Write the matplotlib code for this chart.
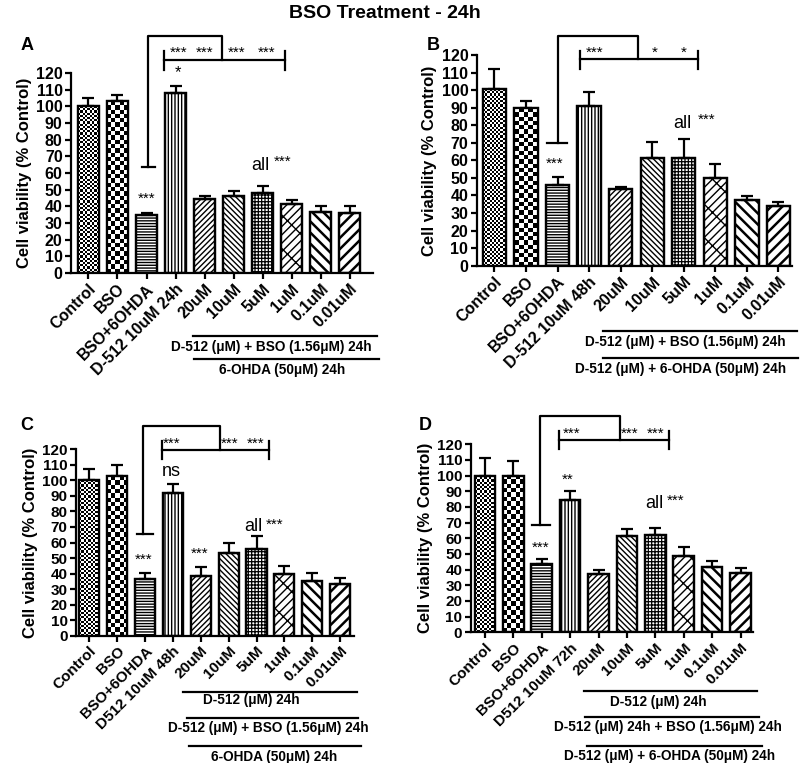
import numpy as np
import matplotlib
matplotlib.use('Agg')
import matplotlib.pyplot as plt

plt.rcParams['font.family'] = ['Liberation Sans', 'DejaVu Sans']

# ---- data (mean, upper SEM) ----
conc_labels = ["20uM", "10uM", "5uM", "1uM", "0.1uM", "0.01uM"]
labels_A = ["Control", "BSO", "BSO+6OHDA", "D-512 10uM 24h"] + conc_labels
labels_B = ["Control", "BSO", "BSO+6OHDA", "D-512 10uM 48h"] + conc_labels
labels_C = ["Control", "BSO", "BSO+6OHDA", "D512 10uM 48h"] + conc_labels
labels_D = ["Control", "BSO", "BSO+6OHDA", "D512 10uM 72h"] + conc_labels

vals_A = [100, 103.2, 34.6, 108, 44.4, 46.2, 48, 41.2, 36.6, 36]
err_A = [5, 3.8, 1.4, 4, 2, 3, 4, 2.8, 3.4, 4]

vals_B = [100.4, 89.8, 46, 90.7, 43.6, 61.5, 61.5, 50, 37.4, 34.2]
err_B = [11.6, 4.2, 4.7, 8.2, 1.4, 8.9, 10.5, 7.7, 2.3, 2]

vals_C = [100, 102.6, 36.2, 92, 38.5, 53.5, 55.5, 39.4, 35.3, 33.6]
err_C = [7.5, 7.4, 4.3, 5.4, 5.8, 6.2, 8.5, 5.6, 5.2, 3.7]

vals_D = [100, 100, 43.6, 84.5, 37, 61.7, 62.1, 48.7, 41.5, 38.1]
err_D = [11.5, 9.4, 3.4, 5.7, 2.6, 4, 4.3, 6, 4, 3.2]

# fill pattern of each bar (None -> checkerboard drawn separately)
hatches = [None, None, '------', '|||||', '//////', '\\\\\\\\\\\\',
           '+++++', '////\\', '\\\\\\', '///']
hatch_lw = [1, 1, 1.0, 1.0, 1.0, 1.0, 0.9, 1.0, 1.8, 1.8]
checker_px = {0: 2.2, 1: 4.3}

LW = 1.6


def checker(ax, bar, cell):
    """Fill a bar with a black/white checkerboard clipped to the bar."""
    x0, w, h = bar.get_x(), bar.get_width(), bar.get_height()
    p0 = ax.transData.transform((x0, 0))
    p1 = ax.transData.transform((x0 + w, h))
    ncol = max(1, int(round((p1[0] - p0[0]) / cell)))
    nrow = max(1, int(round((p1[1] - p0[1]) / cell)))
    grid = np.add.outer(np.arange(nrow), np.arange(ncol)) % 2
    im = ax.imshow(grid, cmap='gray_r', vmin=0, vmax=1, extent=(x0, x0 + w, 0, h),
                   aspect='auto', interpolation='nearest', zorder=2.5)
    im.set_clip_path(bar)


def draw_panel(ax, vals, errs, labels, cfg):
    x = np.arange(len(vals))
    ax.set_xlim(*cfg['xlim'])
    ax.set_ylim(0, 120)

    bars = ax.bar(x, vals, width=cfg['width'], color='white', edgecolor='black',
                  linewidth=LW, zorder=2)
    for i, b in enumerate(bars):
        if hatches[i]:
            b.set_hatch(hatches[i])
            if hasattr(b, 'set_hatch_linewidth'):
                b.set_hatch_linewidth(hatch_lw[i])
    for i, cell in checker_px.items():
        checker(ax, bars[i], cell)
    ax.set_xlim(*cfg['xlim'])
    ax.set_ylim(0, 120)
    # outlines on top
    ax.bar(x, vals, width=cfg['width'], fill=False, edgecolor='black', linewidth=LW, zorder=4)
    ax.errorbar(x, vals, yerr=[np.zeros(len(errs)), errs], fmt='none', ecolor='black',
                elinewidth=LW, capsize=4, capthick=LW, zorder=3)

    for s in ['top', 'right']:
        ax.spines[s].set_visible(False)
    for s in ['left', 'bottom']:
        ax.spines[s].set_linewidth(LW)
    ax.set_yticks(range(0, 121, 10))
    ax.tick_params(axis='both', width=LW, length=4.5, pad=1.5)
    for t in ax.get_yticklabels():
        t.set_fontweight('bold')
        t.set_fontsize(cfg['tick_fs'])
    ax.set_xticks(x)
    ax.set_xticklabels(labels, rotation=45, ha='right', va='top', rotation_mode='anchor',
                       fontweight='bold', fontsize=cfg['xtick_fs'])
    ax.set_ylabel('Cell viability (% Control)', fontweight='bold', fontsize=12, labelpad=3)

    # significance bracket
    br = cfg['bracket']
    kw = dict(color='black', lw=LW, clip_on=False, zorder=5, solid_capstyle='projecting')
    xl, xm, ytop, ylow = br['xl'], br['xm'], br['ytop'], br['ylow']
    ax.plot([xl, xl, xm, xm], [ylow, ytop, ytop, br['yline']], **kw)
    ax.plot(br['cap'], [ylow, ylow], **kw)
    ax.plot([br['x0'], br['x1']], [br['yline'], br['yline']], **kw)
    for xx in (br['x0'], br['x1']):
        ax.plot([xx, xx], br['capy'], **kw)

    for (tx, ty, s, fs) in cfg['notes']:
        ax.text(tx, ty, s, ha='center', va='center', fontsize=fs, clip_on=False, zorder=6)

    # treatment group lines under the x axis
    tr = ax.get_xaxis_transform()
    for (yl, x0, x1, yt, xt, s) in cfg['groups']:
        ax.plot([x0, x1], [yl, yl], color='black', lw=LW, transform=tr, clip_on=False)
        ax.text(xt, yt, s, transform=tr, ha='center', va='center', fontsize=9.8,
                fontweight='bold')


W, H = 800, 763


def rect(l, r, b, t):
    return [l / W, 1 - b / H, (r - l) / W, (b - t) / H]


cfg_A = dict(
    rect=rect(71, 373, 273, 73), xlim=(-0.6, 9.8), width=0.71, tick_fs=11.5, xtick_fs=11.5,
    bracket=dict(xl=2.05, xm=4.6, ytop=142, ylow=63.6, yline=127.6, cap=[1.85, 2.28],
                 x0=2.6, x1=6.76, capy=[122, 133]),
    notes=[(3.1, 132.3, '***', 11), (4.0, 132.3, '***', 11), (5.1, 132.3, '***', 11),
           (6.15, 132.3, '***', 11), (3.1, 120.5, '*', 12), (2.0, 44.5, '***', 11),
           (5.92, 64.6, 'all', 13), (6.7, 66.5, '***', 11)],
    groups=[(-0.315, 3.6, 9.94, -0.37, 6.29, 'D-512 (\u03bcM) + BSO (1.56\u03bcM) 24h'),
            (-0.43, 3.62, 10.01, -0.487, 6.68, '6-OHDA (50\u03bcM) 24h')],
)
cfg_B = dict(
    rect=rect(476.7, 791.7, 265.7, 55), xlim=(-0.56, 9.42), width=0.74, tick_fs=11.5, xtick_fs=11.5,
    bracket=dict(xl=2.0, xm=4.56, ytop=130.7, ylow=69.6, yline=117.5, cap=[1.68, 2.29],
                 x0=2.71, x1=6.44, capy=[112.3, 122.4]),
    notes=[(3.19, 121.5, '***', 11), (5.09, 121.5, '*', 11), (5.99, 121.5, '*', 11),
           (1.92, 58.2, '***', 11), (5.95, 81, 'all', 13), (6.72, 83, '***', 11)],
    groups=[(-0.31, 3.44, 9.58, -0.36, 6.04, 'D-512 (\u03bcM) + BSO (1.56\u03bcM) 24h'),
            (-0.438, 3.44, 9.61, -0.49, 5.91, 'D-512 (\u03bcM) + 6-OHDA (50\u03bcM) 24h')],
)
cfg_C = dict(
    rect=rect(76, 354, 635.7, 449.3), xlim=(-0.48, 9.5), width=0.72, tick_fs=11, xtick_fs=11,
    bracket=dict(xl=1.94, xm=4.69, ytop=135.3, ylow=65.7, yline=119.7, cap=[1.7, 2.3],
                 x0=2.6, x1=6.46, capy=[113.9, 125.3]),
    notes=[(2.95, 123.8, '***', 11), (5.05, 123.8, '***', 11), (5.95, 123.8, '***', 11),
           (2.95, 105.4, 'ns', 13), (1.95, 48.7, '***', 11), (3.95, 53, '***', 11),
           (5.9, 70, 'all', 13), (6.66, 71.5, '***', 11)],
    groups=[(-0.30, 3.36, 9.6, -0.345, 5.8, 'D-512 (\u03bcM) 24h'),
            (-0.443, 3.49, 9.65, -0.496, 6.43, 'D-512 (\u03bcM) + BSO (1.56\u03bcM) 24h'),
            (-0.594, 3.59, 9.74, -0.65, 6.64, '6-OHDA (50\u03bcM) 24h')],
)
cfg_D = dict(
    rect=rect(470.7, 753, 632.3, 444.3), xlim=(-0.5, 9.44), width=0.72, tick_fs=11, xtick_fs=11,
    bracket=dict(xl=1.94, xm=4.75, ytop=138, ylow=68.5, yline=122.8, cap=[1.67, 2.29],
                 x0=2.62, x1=6.49, capy=[116.8, 128.7]),
    notes=[(3.07, 126.8, '***', 11), (5.1, 126.8, '***', 11), (6.0, 126.8, '***', 11),
           (2.9, 97.3, '**', 11), (1.96, 53.7, '***', 11), (5.95, 82.3, 'all', 13),
           (6.7, 84, '***', 11)],
    groups=[(-0.31, 3.5, 9.59, -0.37, 6.09, 'D-512 (\u03bcM) 24h'),
            (-0.452, 3.52, 9.66, -0.506, 6.43, 'D-512 (\u03bcM) 24h + BSO (1.56\u03bcM) 24h'),
            (-0.605, 3.58, 9.74, -0.658, 6.5, 'D-512 (\u03bcM) + 6-OHDA (50\u03bcM) 24h')],
)

fig = plt.figure(figsize=(W / 100, H / 100), dpi=100)

panels = [('A', vals_A, err_A, labels_A, cfg_A, (27, 45)),
          ('B', vals_B, err_B, labels_B, cfg_B, (433, 45)),
          ('C', vals_C, err_C, labels_C, cfg_C, (27, 425)),
          ('D', vals_D, err_D, labels_D, cfg_D, (425, 425))]

for letter, vals, errs, labels, cfg, pos in panels:
    ax = fig.add_axes(cfg['rect'])
    draw_panel(ax, vals, errs, labels, cfg)
    fig.text(pos[0] / W, 1 - pos[1] / H, letter, ha='center', va='center',
             fontsize=13, fontweight='bold')

fig.text(385 / W, 1 - 14 / H, 'BSO Treatment - 24h', ha='center', va='center',
         fontsize=14, fontweight='bold')

fig.savefig('out.png', dpi=100)
